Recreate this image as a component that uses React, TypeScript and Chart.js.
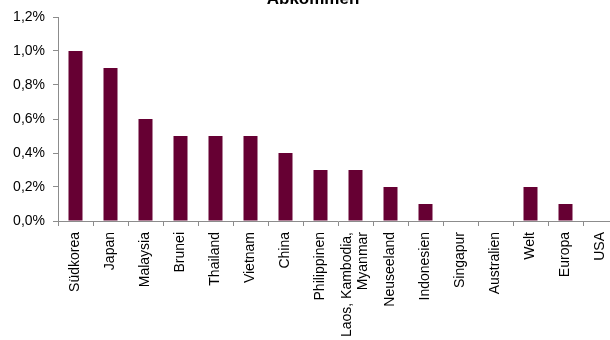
import React, { useEffect, useRef } from "react";
import { Chart, registerables } from "chart.js";

Chart.register(...registerables);

const TITLE = "Abkommen";
const categories: (string | string[])[] = [
  "Südkorea",
  "Japan",
  "Malaysia",
  "Brunei",
  "Thailand",
  "Vietnam",
  "China",
  "Philippinen",
  ["Laos, Kambodia,", "Myanmar"],
  "Neuseeland",
  "Indonesien",
  "Singapur",
  "Australien",
  "Welt",
  "Europa",
  "USA",
];
const values = [1.0, 0.9, 0.6, 0.5, 0.5, 0.5, 0.4, 0.3, 0.3, 0.2, 0.1, 0, 0, 0.2, 0.1, 0];
const yTicks = [0, 0.2, 0.4, 0.6, 0.8, 1.0, 1.2];

const FONT = "'Liberation Sans', Arial, sans-serif";
const BAR = "#660033";
const AXIS = "#8c8c8c";

const titlePlugin = {
  id: "cutTitle",
  afterDraw(chart: any) {
    const ctx = chart.ctx;
    ctx.save();
    ctx.font = `bold 17px ${FONT}`;
    ctx.fillStyle = "#000";
    ctx.textAlign = "center";
    ctx.textBaseline = "alphabetic";
    ctx.fillText(TITLE, chart.width / 2, 4);
    ctx.restore();
  },
};

const xLabelPlugin = {
  id: "xLabels",
  afterDraw(chart: any) {
    const ctx = chart.ctx;
    const xs = chart.scales.x;
    const labels = chart.data.labels as (string | string[])[];
    const lh = 16;
    ctx.save();
    ctx.font = `14px ${FONT}`;
    ctx.fillStyle = "#000";
    labels.forEach((lab, i) => {
      const lines = Array.isArray(lab) ? lab : [lab];
      const x = xs.getPixelForValue(i);
      const y = xs.top + 11;
      ctx.save();
      ctx.translate(x, y);
      ctx.rotate(-Math.PI / 2);
      ctx.textAlign = "right";
      ctx.textBaseline = "middle";
      lines.forEach((ln, j) => {
        ctx.fillText(ln, 0, (j - (lines.length - 1) / 2) * lh);
      });
      ctx.restore();
    });
    ctx.restore();
  },
};

export default function App() {
  const ref = useRef<HTMLCanvasElement | null>(null);
  useEffect(() => {
    if (!ref.current) return;
    const chart = new Chart(ref.current, {
      type: "bar",
      data: {
        labels: categories,
        datasets: [
          {
            data: values,
            backgroundColor: BAR,
            borderWidth: 0,
            barPercentage: 0.4,
            categoryPercentage: 1,
          },
        ],
      },
      plugins: [titlePlugin, xLabelPlugin],
      options: {
        animation: false,
        responsive: true,
        maintainAspectRatio: false,
        layout: { padding: { top: 17, right: 8, left: 0, bottom: 0 } },
        plugins: { legend: { display: false }, tooltip: { enabled: false }, title: { display: false } },
        scales: {
          x: {
            offset: true,
            grid: {
              display: true,
              offset: true,
              drawOnChartArea: false,
              drawTicks: true,
              tickLength: 5,
              color: AXIS,
            },
            border: { display: true, color: AXIS, width: 1 },
            ticks: {
              display: false,
              autoSkip: false,
            },
            afterFit(scale: any) {
              scale.height = 119;
            },
          },
          y: {
            min: 0,
            max: 1.2,
            afterBuildTicks(scale: any) {
              scale.ticks = yTicks.map((v) => ({ value: v }));
            },
            grid: {
              display: true,
              drawOnChartArea: false,
              drawTicks: true,
              tickLength: 5,
              color: AXIS,
            },
            border: { display: true, color: AXIS, width: 1 },
            ticks: {
              color: "#000",
              font: { family: FONT, size: 14 },
              padding: 8,
              callback: (v: any) => Number(v).toFixed(1).replace(".", ",") + "%",
            },
            afterFit(scale: any) {
              scale.width = 58;
            },
          },
        },
      },
    });
    return () => chart.destroy();
  }, []);

  return (
    <div
      style={{
        position: "fixed",
        left: 0,
        top: 0,
        width: 610,
        height: 340,
        overflow: "hidden",
        background: "#fff",
      }}
    >
      <div style={{ position: "relative", width: 626, height: 340 }}>
        <canvas ref={ref} />
      </div>
    </div>
  );
}
